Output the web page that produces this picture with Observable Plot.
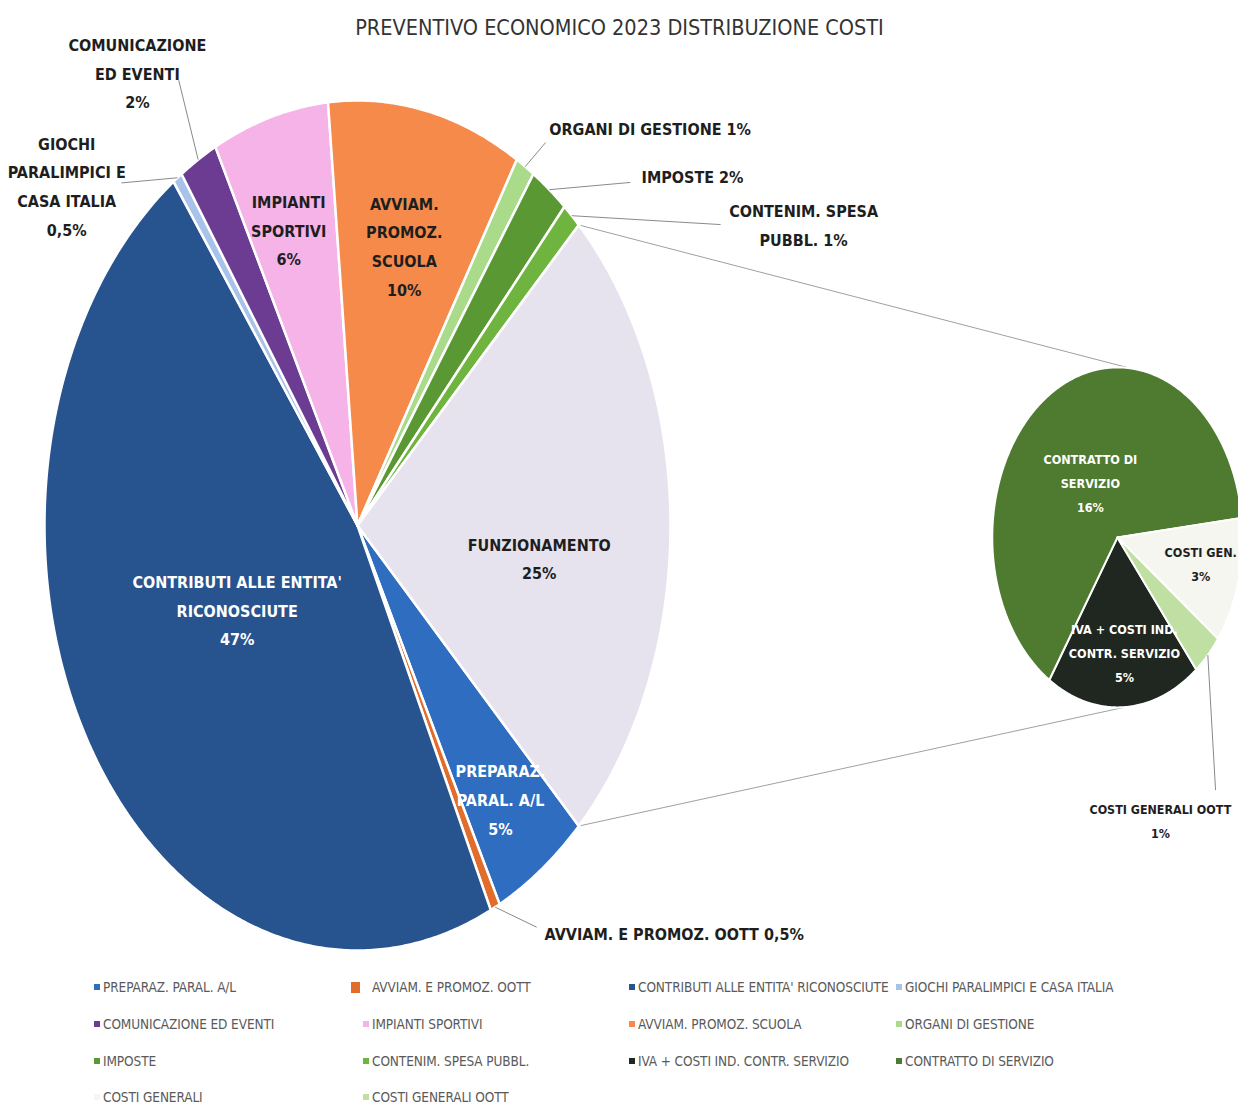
<!DOCTYPE html>
<html>
<head>
<meta charset="utf-8">
<script src="https://cdn.jsdelivr.net/npm/d3@7"></script>
<script src="https://cdn.jsdelivr.net/npm/@observablehq/plot@0.6"></script>
<style>
  html, body { margin: 0; padding: 0; background: #fff; }
  body { width: 1238px; height: 1106px; overflow: hidden; font-family: "Liberation Sans Narrow", "DejaVu Sans Condensed", sans-serif; }
  #chart svg { display: block; }
  #legend { display: grid; grid-template-columns: 269px 266px 267px 320px; grid-auto-rows: 36.7px; padding-left: 103px; padding-top: 5px; font-size: 13.5px; letter-spacing: -0.1px; color: #5a5a5a; }
  .item { position: relative; display: flex; align-items: center; white-space: nowrap; }
  .sw { position: absolute; left: -9px; width: 6px; height: 6px; }
  .sw.big { left: -21px; width: 9px; height: 11px; }
</style>
</head>
<body>
<div id="chart"></div>
<div id="legend"></div>
<script>
// ---------- DATA ----------
const chartTitle = "PREVENTIVO ECONOMICO 2023 DISTRIBUZIONE COSTI";
const mainCategories = [
  "PREPARAZ. PARAL. A/L",
  "AVVIAM. E PROMOZ. OOTT",
  "CONTRIBUTI ALLE ENTITA' RICONOSCIUTE",
  "GIOCHI PARALIMPICI E CASA ITALIA",
  "COMUNICAZIONE ED EVENTI",
  "IMPIANTI SPORTIVI",
  "AVVIAM. PROMOZ. SCUOLA",
  "ORGANI DI GESTIONE",
  "IMPOSTE",
  "CONTENIM. SPESA PUBBL."
];
const mainValues = [5, 0.5, 47, 0.5, 2, 6, 10, 1, 2, 1];
const otherCategory = "FUNZIONAMENTO";

const subCategories = [
  "IVA + COSTI IND. CONTR. SERVIZIO",
  "CONTRATTO DI SERVIZIO",
  "COSTI GENERALI",
  "COSTI GENERALI OOTT"
];
const subValues = [5, 16, 3, 1];

const mainLabelText = [
  "PREPARAZ.\nPARAL. A/L\n{p}",
  "AVVIAM. E PROMOZ. OOTT {p}",
  "CONTRIBUTI ALLE ENTITA'\nRICONOSCIUTE\n{p}",
  "GIOCHI\nPARALIMPICI E\nCASA ITALIA\n{p}",
  "COMUNICAZIONE\nED EVENTI\n{p}",
  "IMPIANTI\nSPORTIVI\n{p}",
  "AVVIAM.\nPROMOZ.\nSCUOLA\n{p}",
  "ORGANI DI GESTIONE {p}",
  "IMPOSTE {p}",
  "CONTENIM. SPESA\nPUBBL. {p}"
];
const otherLabelText = "FUNZIONAMENTO\n{p}";
const subLabelText = [
  "IVA + COSTI IND.\nCONTR. SERVIZIO\n{p}",
  "CONTRATTO DI\nSERVIZIO\n{p}",
  "COSTI GEN.\n{p}",
  "COSTI GENERALI OOTT\n{p}"
];

// ---------- STYLE / LAYOUT ----------
const mainColors = ["#2e6dbf", "#e06d2b", "#27538e", "#a8c3ea", "#6c3c92", "#f5b3e8", "#f58a4b", "#a9db8a", "#5a9834", "#70b440"];
const otherColor = "#e6e3ef";
const subColors = ["#1f2720", "#4e7b2f", "#f4f6ef", "#bfe0a2"];

const MAIN = {cx: 0, cy: 0, r: 1, start: 135};
const SUB = {cx: 2.428, cy: -0.028, r: 0.4, start: 141};

// label placement: angle shift from slice mid (deg), radius factor, text colour, leader end
const mainPlace = [
  {da: 0.4, r: 0.785, light: true},
  {da: -6, r: 1.125, anchor: "start", lead: {da: -5.1, r: 1.105}},
  {da: 4, r: 0.43, light: true},
  {da: -14, r: 1.229, lead: {da: -8, r: 1.104}},
  {da: -2.7, r: 1.281, lead: {da: 2, r: 1.193}},
  {da: -1.2, r: 0.735},
  {da: 0.1, r: 0.68},
  {da: 12.4, r: 1.327, lead: {da: 1.3, r: 1.083}},
  {da: 14.5, r: 1.353, lead: {da: 9.4, r: 1.188}},
  {da: 20.2, r: 1.594, lead: {da: 15.4, r: 1.359}}
];
const otherPlace = {da: 7, r: 0.585};
const subPlace = [
  {da: -1.8, r: 0.667, light: true},
  {da: -1, r: 0.40, light: true},
  {da: -3, r: 0.68},
  {da: 34.5, r: 1.69, lead: {da: 18.4, r: 1.68}}
];

// ---------- GEOMETRY via d3.pie ----------
const rad = Math.PI / 180;
const fmtPct = v => String(v).replace(".", ",") + "%";
function pieOf(names, values, P) {
  const a0 = P.start * rad;
  const arcs = d3.pie().sort(null).value(d => d).startAngle(a0).endAngle(a0 + 2 * Math.PI)(values);
  const pts = [];
  arcs.forEach((a, i) => {
    const n = Math.max(3, Math.ceil((a.endAngle - a.startAngle) / (0.5 * rad)));
    pts.push({name: names[i], x: P.cx, y: P.cy});
    for (let k = 0; k <= n; k++) {
      const t = a.startAngle + (a.endAngle - a.startAngle) * k / n;
      pts.push({name: names[i], x: P.cx + P.r * Math.sin(t), y: P.cy + P.r * Math.cos(t)});
    }
    pts.push({name: names[i], x: P.cx, y: P.cy});
  });
  return {arcs, pts};
}
const polar = (P, ang, rf) => ({x: P.cx + P.r * rf * Math.sin(ang), y: P.cy + P.r * rf * Math.cos(ang)});

const mainNames = [...mainCategories, otherCategory];
const mainVals = [...mainValues, d3.sum(subValues)];
const main = pieOf(mainNames, mainVals, MAIN);
const sub = pieOf(subCategories, subValues, SUB);

const labels = [], leaders = [];
function addLabels(arcs, texts, places, P, vals, size, lh) {
  arcs.forEach((a, i) => {
    const pl = places[i];
    const mid = (a.startAngle + a.endAngle) / 2;
    const p = polar(P, mid + pl.da * rad, pl.r);
    labels.push({...p, text: texts[i].replace("{p}", fmtPct(vals[i])), light: !!pl.light, anchor: pl.anchor || "middle", size, lh});
    if (pl.lead) {
      const e = polar(P, mid, 1);
      const l = polar(P, mid + pl.lead.da * rad, pl.lead.r);
      leaders.push({x1: e.x, y1: e.y, x2: l.x, y2: l.y});
    }
  });
}
addLabels(main.arcs, [...mainLabelText, otherLabelText], [...mainPlace, otherPlace], MAIN, mainVals, 16, 1.8);
addLabels(sub.arcs, subLabelText, subPlace, SUB, subValues, 12.5, 1.9);
labels[labels.length - 1].size = 12.4;

// connectors between "other" slice and secondary pie
const otherArc = main.arcs[main.arcs.length - 1];
const pA = polar(MAIN, otherArc.startAngle, 1), pB = polar(MAIN, otherArc.endAngle, 1);
const connectors = [
  {x1: pA.x, y1: pA.y, x2: SUB.cx + 0.03, y2: SUB.cy + SUB.r},
  {x1: pB.x, y1: pB.y, x2: SUB.cx + 0.02, y2: SUB.cy - SUB.r}
];

const allNames = [...mainNames, ...subCategories];
const allColors = [...mainColors, otherColor, ...subColors];
const FONT = "Liberation Sans Narrow, DejaVu Sans Condensed, sans-serif";

const textMarks = [];
for (const light of [false, true]) {
  for (const anchor of ["middle", "start"]) {
    for (const size of [16, 12.5, 12.4]) {
      const subset = labels.filter(d => d.light === light && d.anchor === anchor && d.size === size);
      if (!subset.length) continue;
      textMarks.push(Plot.text(subset, {
        x: "x", y: "y", text: "text", fontSize: size, textAnchor: anchor,
        fill: light ? "white" : "#1e1e1e", fontWeight: "bold", fontFamily: FONT,
        lineHeight: subset[0].lh
      }));
    }
  }
}

const chart = Plot.plot({
  width: 1238,
  height: 964,
  margin: 0,
  x: {domain: [-1, 1], range: [44, 670], axis: null},
  y: {domain: [-1, 1], range: [950, 100], axis: null},
  color: {domain: allNames, range: allColors},
  marks: [
    Plot.text([chartTitle], {frameAnchor: "top", dy: 28, lineAnchor: "middle", text: d => d, fontSize: 21.5, fill: "#333", fontFamily: FONT}),
    Plot.link(connectors, {x1: "x1", y1: "y1", x2: "x2", y2: "y2", stroke: "#a0a0a0", strokeWidth: 1}),
    Plot.line(main.pts, {x: "x", y: "y", z: "name", fill: "name", stroke: "white", strokeWidth: 2.5}),
    Plot.line(sub.pts, {x: "x", y: "y", z: "name", fill: "name", stroke: "white", strokeWidth: 2}),
    Plot.link(leaders, {x1: "x1", y1: "y1", x2: "x2", y2: "y2", stroke: "#8a8a8a", strokeWidth: 1}),
    ...textMarks
  ]
});
document.getElementById("chart").appendChild(chart);

// ---------- LEGEND ----------
const legendNames = [...mainCategories, ...subCategories];
const legendColors = [...mainColors, ...subColors];
const leg = document.getElementById("legend");
legendNames.forEach((n, i) => {
  const it = document.createElement("div");
  it.className = "item";
  const sw = document.createElement("span");
  sw.className = i === 1 ? "sw big" : "sw";
  sw.style.background = legendColors[i];
  it.appendChild(sw);
  it.appendChild(document.createTextNode(n));
  leg.appendChild(it);
});
</script>
</body>
</html>
